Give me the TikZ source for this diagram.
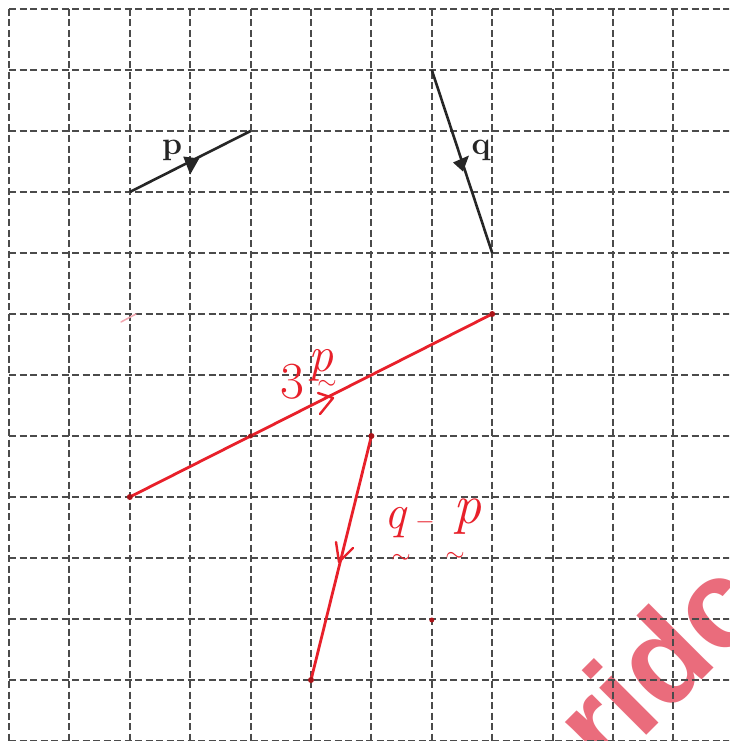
\documentclass[tikz,border=0pt]{standalone}
\usepackage{fontspec}
\newfontfamily\wmfont{Liberation Sans}
\usetikzlibrary{calc}
\definecolor{ink}{RGB}{232,32,42}
\definecolor{inkdot}{RGB}{170,20,25}
\definecolor{wmred}{RGB}{234,108,124}
\definecolor{gridgray}{RGB}{75,75,75}
\tikzset{
  gridline/.style={draw=gridgray,line width=1.8pt,dash pattern=on 7pt off 3.5pt},
  vec/.style={draw=black!85,line width=2.6pt},
  redvec/.style={draw=ink,line width=2.8pt,line cap=round},
  redhead/.style={draw=ink,line width=2.4pt,line cap=round,line join=round},
  blabel/.style={font=\fontsize{32}{32}\selectfont\bfseries,text=black!85,inner sep=0pt},
  rlabel/.style={text=ink,inner sep=0pt},
  wm/.style={font=\fontsize{126}{126}\selectfont\wmfont\bfseries,text=wmred,inner sep=0pt},
  dotmark/.style={fill=inkdot,draw=none}
}
\begin{document}
\begin{tikzpicture}[x=1pt,y=-1pt]
\useasboundingbox (0,0) rectangle (729,741);
\clip (0,0) rectangle (729,741);
\fill[white] (0,0) rectangle (729,741);
% watermark
\node[wm,rotate=45,anchor=base west] (wm) at (606,776) {ridc};
% grid
\foreach \i in {0,...,11} {
  \pgfmathsetmacro{\gx}{int(9.5+60.4*\i)}
  \draw[gridline] (\gx,9) -- (\gx,745);
}
\foreach \j in {0,...,12} {
  \pgfmathsetmacro{\gy}{int(9.5+61*\j)}
  \draw[gridline] (9,\gy) -- (735,\gy);
}
% black vectors
\coordinate (p1) at (129.8,192);
\coordinate (p2) at (250.6,131);
\coordinate (q1) at (431.8,70);
\coordinate (q2) at (492.2,253);
\draw[vec] (p1) -- (p2);
\draw[vec] (q1) -- (q2);
\coordinate (pm) at ($(p1)!0.5!(p2)$);
\coordinate (qm) at ($(q1)!0.5!(q2)$);
\fill[black!85] ([shift={(-7,-5)}]pm) -- ([shift={(9,-3)}]pm) -- ([shift={(0,13)}]pm) -- cycle;
\fill[black!85] ([shift={(-9,1)}]qm) -- ([shift={(7,-6)}]qm) -- ([shift={(1,10)}]qm) -- cycle;
\node[blabel] (plab) at (172,150) {p};
\node[blabel] (qlab) at (481,150) {q};
% red vector 3p
\coordinate (a1) at (129.8,497);
\coordinate (a2) at (492.2,314);
\draw[redvec] (a1) -- (a2);
\coordinate (ah) at (333,398);
\draw[redhead] (318,393) -- (ah) -- (320,414);
\fill[dotmark] (a1) circle (3);
\fill[dotmark] (a2) circle (3);
\fill[dotmark] (250.6,436) circle (2.5);
\node[rlabel,font=\fontsize{52}{52}\selectfont] (three) at (292,382) {3};
\node[rlabel,font=\fontsize{50}{50}\selectfont\itshape] (pp) at (321,365) {p};
\node[rlabel,font=\fontsize{36}{36}\selectfont] (t0) at (327,385) {$\sim$};
% red vector q-p
\coordinate (b1) at (371.4,436);
\coordinate (b2) at (311,680);
\draw[redvec] (b1) -- (b2);
\coordinate (bh) at (339,562);
\draw[redhead] (336,542) -- (bh) -- (353,548);
\fill[dotmark] (b1) circle (3);
\fill[dotmark] (b2) circle (3);
\fill[dotmark] (431.8,620) circle (2.5);
\node[rlabel,font=\fontsize{48}{48}\selectfont\itshape] (qq) at (395,523) {q};
\node[rlabel,font=\fontsize{28}{28}\selectfont] (minus) at (425,522) {$-$};
\node[rlabel,font=\fontsize{56}{56}\selectfont\itshape] (pp2) at (467,517) {p};
\node[rlabel,font=\fontsize{42}{42}\selectfont] (t1) at (401,559) {$\sim$};
\node[rlabel,font=\fontsize{42}{42}\selectfont] (t2) at (455,557) {$\sim$};
% faint pink mark
\draw[draw=wmred!60,line width=1.5pt,line cap=round] (121,322) -- (136,314);
\end{tikzpicture}
\end{document}
